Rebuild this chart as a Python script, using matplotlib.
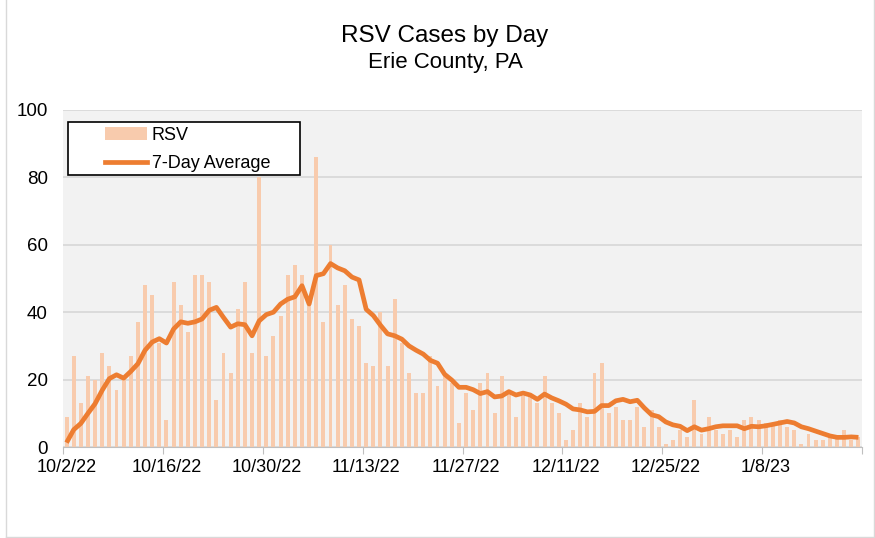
import matplotlib
matplotlib.use('Agg')
import matplotlib.pyplot as plt
from matplotlib.patches import Rectangle, Patch
from matplotlib.lines import Line2D
import numpy as np

plt.rcParams['font.family'] = ['Liberation Sans', 'DejaVu Sans']

# ---- data (daily, starting 10/2/22) ----
rsv_cases = [9, 27, 13, 21, 20, 28, 24, 17, 20, 27, 37, 48, 45, 31, 8, 49, 42, 34, 51, 51,
             49, 14, 28, 22, 41, 49, 28, 80, 27, 33, 39, 51, 54, 51, 42, 86, 37, 60, 42, 48,
             38, 36, 25, 24, 40, 24, 44, 31, 22, 16, 16, 27, 18, 21, 19, 7, 16, 11, 19, 22,
             10, 21, 16, 9, 15, 15, 13, 21, 13, 10, 2, 5, 13, 9, 22, 25, 10, 12, 8, 8,
             12, 6, 11, 6, 1, 2, 5, 3, 14, 4, 9, 5, 4, 5, 3, 8, 9, 8, 7, 7,
             8, 6, 5, 1, 4, 2, 2, 3, 3, 5, 2, 3]

seven_day_avg = [1.29, 5.14, 7.00, 10.00, 12.86, 16.86, 20.29, 21.43, 20.43, 22.43,
                 24.71, 28.71, 31.14, 32.14, 30.86, 35.00, 37.14, 36.71, 37.14, 38.00,
                 40.57, 41.43, 38.43, 35.57, 36.57, 36.29, 33.00, 37.43, 39.29, 40.00,
                 42.43, 43.86, 44.57, 47.86, 42.43, 50.86, 51.43, 54.43, 53.14, 52.29,
                 50.43, 49.57, 40.86, 39.00, 36.14, 33.57, 33.00, 32.00, 30.00, 28.71,
                 27.57, 25.71, 24.86, 21.57, 19.86, 17.71, 17.71, 17.00, 15.86, 16.43,
                 14.86, 15.14, 16.43, 15.43, 16.00, 15.43, 14.14, 15.71, 14.57, 13.71,
                 12.71, 11.29, 11.00, 10.43, 10.57, 12.29, 12.29, 13.71, 14.14, 13.43,
                 13.86, 11.57, 9.57, 9.00, 7.43, 6.57, 6.14, 4.86, 6.00, 5.00,
                 5.43, 6.00, 6.29, 6.29, 6.29, 5.43, 6.14, 6.00, 6.29, 6.71,
                 7.14, 7.57, 7.14, 6.00, 5.43, 4.71, 4.00, 3.29, 2.86, 2.86,
                 3.00, 2.86]

date_labels = ['10/2/22', '10/16/22', '10/30/22', '11/13/22', '11/27/22',
               '12/11/22', '12/25/22', '1/8/23']
y_ticks = [0, 20, 40, 60, 80, 100]
series_names = ['RSV', '7-Day Average']
title = 'RSV Cases by Day'
subtitle = 'Erie County, PA'

BAR_COLOR = '#f8cbad'
LINE_COLOR = '#ed7d31'

W, H = 875, 538
fig = plt.figure(figsize=(W / 100, H / 100), dpi=100)
fig.patch.set_facecolor('white')

# outer chart border
for xs, ys in [([5.5 / W, 5.5 / W], [0, 1]), ([873.5 / W, 873.5 / W], [0, 1]),
               ([5.5 / W, 873.5 / W], [1.5 / H, 1.5 / H])]:
    fig.add_artist(Line2D(xs, ys, transform=fig.transFigure, color='#d9d9d9', lw=1))

ax = fig.add_axes([63 / W, 1 - 447 / H, (862 - 63) / W, (447 - 110) / H])
ax.set_facecolor('#f2f2f2')

x = np.arange(len(rsv_cases))
ax.bar(x, rsv_cases, width=0.55, color=BAR_COLOR, zorder=2)
ax.plot(x, seven_day_avg, color=LINE_COLOR, lw=3.4, solid_joinstyle='round',
        solid_capstyle='butt', zorder=3)

ax.set_xlim(-0.5, len(x) - 0.5)
ax.set_ylim(0, 100)
ax.set_yticks(y_ticks)
ax.yaxis.grid(True, color='#d9d9d9', lw=1.3)
ax.set_axisbelow(True)
for s in ['left', 'right', 'top']:
    ax.spines[s].set_visible(False)
ax.spines['bottom'].set_color('#bfbfbf')
ax.spines['bottom'].set_zorder(4)
ax.tick_params(axis='y', length=0, pad=11, labelsize=13.5)

major = np.arange(-0.5, len(x), 14)
ax.set_xticks(major)
ax.set_xticklabels([])
ax.tick_params(axis='x', which='major', length=5, color='#bfbfbf', direction='out')
ax.set_xticks([14 * k for k in range(len(date_labels))], minor=True)
ax.set_xticklabels(date_labels, minor=True)
ax.tick_params(axis='x', which='minor', length=0, pad=9, labelsize=13)

# legend box
x0 = (68 - 63) / 799
x1 = (300 - 63) / 799
y0 = (447 - 175) / 337
y1 = (447 - 122) / 337
ax.add_patch(Rectangle((x0, y0), x1 - x0, y1 - y0, transform=ax.transAxes,
                       facecolor='white', edgecolor='black', lw=1.2, zorder=5, clip_on=False))
handles = [Patch(facecolor=BAR_COLOR, edgecolor='none'),
           Line2D([0], [0], color=LINE_COLOR, lw=3.4)]
leg = ax.legend(handles, series_names, loc='upper left',
                bbox_to_anchor=((105 - 63) / 799, (447 - 127) / 337),
                frameon=False, fontsize=13, handlelength=2.3, handletextpad=0.3,
                labelspacing=0.6, borderpad=0, borderaxespad=0)
leg.set_zorder(6)

fig.text(445 / W, 1 - 42 / H, title, ha='center', va='baseline', fontsize=17.5)
fig.text(445 / W, 1 - 68 / H, subtitle, ha='center', va='baseline', fontsize=16)

fig.savefig('out.png', dpi=100)
